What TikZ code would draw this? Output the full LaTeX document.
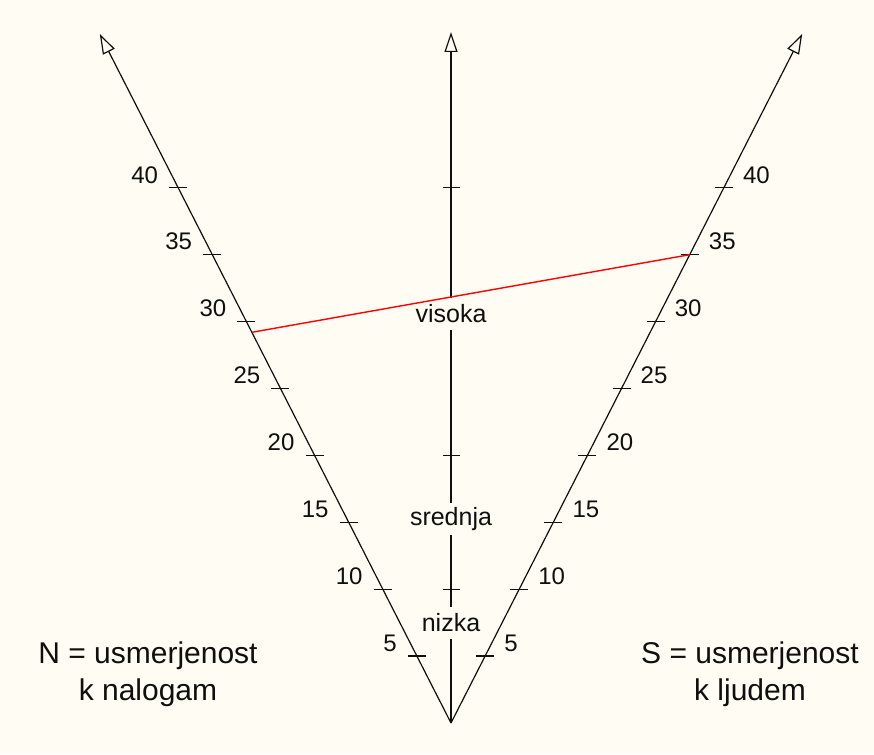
\documentclass[tikz,border=0pt]{standalone}
\usepackage{fontspec}
\setmainfont{Liberation Sans}
\usetikzlibrary{arrows.meta, calc}
\definecolor{paper}{RGB}{255,253,243}
\definecolor{inkcolor}{RGB}{15,15,15}
\tikzset{
  axis/.style     = {-{Triangle[open, length=20pt, width=13pt]}, line width=1.2pt, draw=inkcolor},
  tickmark/.style = {line width=1.2pt, draw=inkcolor},
  num/.style      = {font=\fontsize{24}{28}\selectfont, inner sep=0pt, text=inkcolor},
  level/.style    = {fill=paper, font=\fontsize{25}{30}\selectfont, inner sep=2pt,
                     minimum height=32pt, text=inkcolor},
  legend/.style   = {align=center, font=\fontsize{30}{37}\selectfont, text=inkcolor},
  result/.style   = {draw=red, line width=1.4pt},
}

\begin{document}
\begin{tikzpicture}[x=1pt, y=1pt]
  % paper, fixes the frame
  \fill[paper] (-451,-31) rectangle (423,723);
  \coordinate (O) at (0,0);
  \coordinate (ntip) at (-6.82*51.5, 13.38*51.5);
  \coordinate (ctip) at (0,691);
  \coordinate (stip) at (6.82*51.5, 13.38*51.5);
  \draw[axis] (O) -- (ntip);
  \draw[axis] (O) -- (ctip);
  \draw[axis] (O) -- (stip);
  % scale on both sides
  \foreach \v in {5,10,...,40} {
    \coordinate (n\v) at (-6.82*\v, 13.38*\v);
    \coordinate (s\v) at (6.82*\v, 13.38*\v);
    \draw[tickmark] ($(n\v)+(-9,0)$) -- ($(n\v)+(9,0)$);
    \draw[tickmark] ($(s\v)+(-9,0)$) -- ($(s\v)+(9,0)$);
    \node[num, anchor=east] at ($(n\v)+(-20,13)$) {\v};
    \node[num, anchor=west] at ($(s\v)+(19,13)$) {\v};
  }
  \foreach \v in {10,20,30,40}
    \draw[tickmark] (-8.5,13.38*\v) -- (8.5,13.38*\v);
  \node[level] (visoka) at (0,409) {visoka};
  \node[level] (srednja) at (0,204) {srednja};
  \node[level] (nizka) at (0,100) {nizka};
  % N = 29.2, S = 35
  \coordinate (nval) at (-6.82*29.2, 13.38*29.2);
  \coordinate (sval) at (6.82*35, 13.38*35);
  \draw[result] (nval) -- (sval);
  \node[legend] (nleg) at (-303,49) {N = usmerjenost\\k nalogam};
  \node[legend] (sleg) at (299,49) {S = usmerjenost\\k ljudem};
\end{tikzpicture}
\end{document}
